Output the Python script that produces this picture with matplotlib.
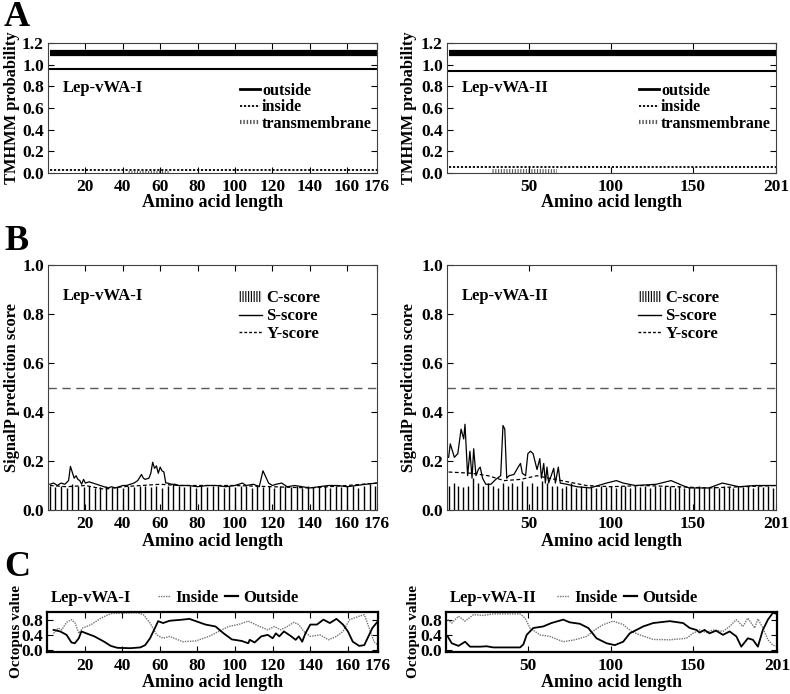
import numpy as np
import matplotlib
matplotlib.use('Agg')
import matplotlib.pyplot as plt
from matplotlib.lines import Line2D
from matplotlib.patches import Patch

plt.rcParams['font.family'] = ['Liberation Serif', 'DejaVu Serif']
plt.rcParams['font.weight'] = 'bold'
plt.rcParams['axes.labelweight'] = 'bold'
plt.rcParams['hatch.linewidth'] = 0.8

# ---- data ----
names = ['Lep-vWA-I', 'Lep-vWA-II']
lengths = [176, 201]
xticks = [[20, 40, 60, 80, 100, 120, 140, 160, 176], [50, 100, 150, 201]]

# A: TMHMM
tm_top = [1.11, 1.11]
tm_outside = [0.96, 0.945]
tm_inside = [0.03, 0.055]
tm_start = [43, 27]
tm_end = [65, 67]
tm_prob = [0.015, 0.04]

# B: SignalP, C-score every 3rd residue
c_score_1 = [0.10, 0.095, 0.10, 0.09, 0.105, 0.10, 0.095, 0.10, 0.09, 0.095,
             0.10, 0.09, 0.095, 0.09, 0.10, 0.095, 0.10, 0.10, 0.095, 0.10,
             0.09, 0.10, 0.105, 0.10, 0.095, 0.10, 0.09, 0.10, 0.095, 0.10,
             0.10, 0.09, 0.10, 0.095, 0.10, 0.10, 0.09, 0.10, 0.095, 0.10,
             0.09, 0.10, 0.10, 0.095, 0.10, 0.09, 0.10, 0.095, 0.10, 0.10,
             0.09, 0.10, 0.095, 0.10, 0.10, 0.09, 0.10, 0.105, 0.10]
c_score_2 = [0.10, 0.11, 0.10, 0.095, 0.10, 0.13, 0.11, 0.10, 0.11, 0.10,
             0.09, 0.11, 0.10, 0.11, 0.10, 0.12, 0.10, 0.11, 0.10, 0.12,
             0.11, 0.10, 0.10, 0.09, 0.10, 0.11, 0.09, 0.10, 0.095, 0.10,
             0.09, 0.10, 0.095, 0.10, 0.09, 0.10, 0.10, 0.09, 0.10, 0.095,
             0.10, 0.09, 0.10, 0.095, 0.10, 0.10, 0.09, 0.10, 0.09, 0.095,
             0.09, 0.10, 0.09, 0.095, 0.10, 0.09, 0.10, 0.095, 0.09, 0.10,
             0.095, 0.10, 0.09, 0.10, 0.095, 0.10, 0.09]

s_pos_1 = [1, 3, 5, 7, 9, 11, 12, 14, 15, 16, 17, 18, 19, 20, 22, 24, 26, 28, 30,
           32, 34, 36, 38, 40, 42, 44, 46, 48, 50, 51, 52, 54, 55, 56, 57, 58, 59,
           60, 61, 62, 63, 64, 66, 68, 70, 75, 80, 85, 90, 95, 100, 104, 106, 110,
           113, 115, 118, 120, 122, 125, 128, 132, 136, 140, 145, 150, 155, 160,
           165, 170, 176]
s_score_1 = [0.105, 0.11, 0.10, 0.11, 0.105, 0.12, 0.178, 0.13, 0.14, 0.125, 0.12,
             0.105, 0.125, 0.11, 0.115, 0.11, 0.105, 0.10, 0.095, 0.09, 0.095, 0.09,
             0.095, 0.10, 0.10, 0.105, 0.11, 0.12, 0.145, 0.13, 0.125, 0.13, 0.15,
             0.195, 0.17, 0.18, 0.15, 0.175, 0.16, 0.155, 0.11, 0.11, 0.105, 0.105,
             0.10, 0.10, 0.095, 0.10, 0.10, 0.095, 0.10, 0.11, 0.10, 0.105, 0.095,
             0.16, 0.11, 0.10, 0.105, 0.11, 0.095, 0.10, 0.095, 0.09, 0.095, 0.10,
             0.10, 0.095, 0.10, 0.105, 0.11]
y_pos_1 = [1, 10, 20, 30, 40, 50, 60, 70, 85, 100, 120, 140, 160, 176]
y_score_1 = [0.10, 0.095, 0.10, 0.085, 0.095, 0.10, 0.105, 0.10, 0.10, 0.10,
             0.095, 0.09, 0.10, 0.11]

s_pos_2 = [1, 2, 4.5, 6.6, 8.6, 10.2, 11, 12.6, 14, 15.3, 16.3, 17.7, 19.1, 20.3,
           21.7, 23.7, 26.8, 29.8, 32.8, 34.2, 35.3, 36.5, 37.9, 40.9, 43.9, 44.9,
           46, 48, 49.4, 51, 52.6, 55, 56.7, 57.7, 59.1, 60.1, 61.1, 62.1, 65.2,
           66.2, 68, 69.2, 73.2, 79.3, 87.4, 97.5, 103.5, 107.6, 115, 127.8, 136.9,
           143.9, 148, 160, 168.2, 178.3, 188.4, 201]
s_score_2 = [0.215, 0.27, 0.215, 0.23, 0.33, 0.29, 0.35, 0.14, 0.24, 0.13, 0.25,
             0.14, 0.165, 0.175, 0.13, 0.105, 0.105, 0.125, 0.14, 0.345, 0.33,
             0.13, 0.14, 0.145, 0.18, 0.19, 0.15, 0.14, 0.23, 0.24, 0.23, 0.165,
             0.21, 0.13, 0.19, 0.11, 0.175, 0.11, 0.17, 0.11, 0.175, 0.11, 0.105,
             0.095, 0.09, 0.11, 0.12, 0.11, 0.10, 0.105, 0.12, 0.10, 0.09, 0.09,
             0.11, 0.095, 0.10, 0.10]
y_pos_2 = [1, 15, 25, 35, 45, 55, 62, 70, 85, 100, 120, 140, 160, 180, 201]
y_score_2 = [0.155, 0.15, 0.14, 0.12, 0.125, 0.14, 0.13, 0.12, 0.10, 0.095,
             0.10, 0.095, 0.09, 0.095, 0.10]
cutoff = 0.5

# C: Octopus
out_pos_1 = [3.5, 7, 10.4, 13, 14.8, 16.9, 18.3, 20.9, 25.2, 30.4, 33.9, 37.4, 44.3,
             49.6, 52.2, 54.8, 57.4, 59.1, 61.7, 65.2, 72.2, 75.7, 79.1, 84.3, 89.6,
             93.9, 98.3, 103.5, 107, 107.8, 110.4, 113.9, 117.4, 120, 121.7, 123.5,
             126, 129.6, 132.2, 133.9, 135.7, 137.4, 140, 143.5, 147, 150.4, 153.9,
             157.4, 160, 162.6, 166, 168.7, 171.3, 173, 176]
out_val_1 = [0.53, 0.49, 0.40, 0.20, 0.18, 0.31, 0.49, 0.44, 0.36, 0.22, 0.11, 0.06,
             0.05, 0.07, 0.13, 0.31, 0.58, 0.76, 0.71, 0.77, 0.80, 0.82, 0.76, 0.67,
             0.62, 0.44, 0.28, 0.24, 0.18, 0.27, 0.20, 0.36, 0.40, 0.31, 0.44, 0.36,
             0.49, 0.37, 0.27, 0.36, 0.22, 0.44, 0.67, 0.67, 0.80, 0.71, 0.82, 0.67,
             0.49, 0.22, 0.11, 0.13, 0.40, 0.58, 0.76]
in_pos_1 = [3.5, 6, 7.8, 10.4, 13, 15, 16.9, 19, 23.5, 28.7, 33.9, 47.8, 51.3, 54.8,
            58.3, 61.7, 65.2, 72.2, 79.1, 86.1, 91.3, 96.5, 101.7, 107, 112.2, 117.4,
            120.9, 124.3, 127.8, 131.3, 133.9, 136.5, 140, 145.2, 149.6, 153.9, 157.4,
            160.9, 166, 168.7, 171.3, 173.9, 176]
in_val_1 = [0.44, 0.58, 0.53, 0.73, 0.80, 0.71, 0.44, 0.58, 0.67, 0.84, 0.96, 0.98,
            0.93, 0.71, 0.40, 0.31, 0.36, 0.22, 0.24, 0.36, 0.49, 0.62, 0.67, 0.76,
            0.64, 0.53, 0.62, 0.53, 0.62, 0.73, 0.67, 0.49, 0.36, 0.40, 0.27, 0.36,
            0.49, 0.80, 0.89, 0.93, 0.58, 0.22, 0.13]

out_pos_2 = [1, 3.5, 7.6, 11.6, 14.6, 20.7, 24.7, 28.8, 45, 47, 49, 53, 59, 64, 71.2,
             75, 81.3, 86.4, 91.4, 97.5, 102.5, 107.6, 111.6, 115.7, 119.7, 125.8,
             135.9, 144, 148, 152, 154, 157, 160, 164, 168.2, 172.2, 176.3, 179.3,
             183.3, 186.4, 189.4, 192.4, 195.5, 198.5, 201]
out_val_2 = [0.36, 0.18, 0.11, 0.22, 0.09, 0.09, 0.10, 0.07, 0.07, 0.15, 0.40, 0.58,
             0.62, 0.71, 0.80, 0.73, 0.69, 0.58, 0.31, 0.18, 0.13, 0.22, 0.44, 0.53,
             0.62, 0.71, 0.76, 0.71, 0.58, 0.53, 0.46, 0.53, 0.44, 0.51, 0.40, 0.49,
             0.36, 0.09, 0.31, 0.27, 0.09, 0.53, 0.80, 0.98, 0.95]
in_pos_2 = [1, 3.5, 7.6, 11.6, 16.7, 22.7, 28.8, 45, 48, 51, 57, 63, 71.2, 78.3, 85.4,
            90.4, 95.5, 101.5, 107.6, 112.6, 117.7, 125.8, 135.9, 146, 150, 154, 158,
            162, 168.2, 172.2, 176.3, 180.3, 183.3, 187.4, 189.4, 192.4, 195.5, 198.5,
            201]
in_val_2 = [0.80, 0.71, 0.89, 0.76, 0.93, 0.91, 0.95, 0.95, 0.84, 0.58, 0.40, 0.36,
            0.22, 0.27, 0.36, 0.53, 0.67, 0.76, 0.67, 0.49, 0.40, 0.28, 0.27, 0.31,
            0.44, 0.53, 0.46, 0.53, 0.49, 0.62, 0.80, 0.62, 0.84, 0.58, 0.82, 0.58,
            0.27, 0.13, 0.10]

c_scores = [c_score_1, c_score_2]
s_pos = [s_pos_1, s_pos_2]
s_scores = [s_score_1, s_score_2]
y_pos = [y_pos_1, y_pos_2]
y_scores = [y_score_1, y_score_2]
out_pos = [out_pos_1, out_pos_2]
out_vals = [out_val_1, out_val_2]
in_pos = [in_pos_1, in_pos_2]
in_vals = [in_val_1, in_val_2]

W, H = 790, 694
LAB = 11.8      # y labels
TXT = 12        # names and legends
TICK = 12.5
XLAB = 13


def rect(x0, y0, x1, y1):
    return [x0 / W, 1 - y1 / H, (x1 - x0) / W, (y1 - y0) / H]


def style(ax, n, ticks, spine_w=0.8, spine_c='0.25'):
    ax.set_xlim(0, n)
    ax.set_xticks(ticks)
    ax.tick_params(direction='in', top=True, right=True, length=4, width=0.8,
                   labelsize=TICK, pad=3)
    ax.tick_params(axis='x', pad=4)
    for s in ax.spines.values():
        s.set_linewidth(spine_w)
        s.set_color(spine_c)


fig = plt.figure(figsize=(W / 100, H / 100), dpi=100)

cols = [(48, 377), (447, 776)]

for i in range(2):
    n = lengths[i]
    x0, x1 = cols[i]
    ylx = [-0.085, -0.091][i]

    # ---- A ----
    ax = fig.add_axes(rect(x0, 43, x1, 173))
    ax.plot([1, n], [tm_top[i]] * 2, color='k', lw=4.5, solid_capstyle='butt')
    ax.plot([1, n], [tm_outside[i]] * 2, color='k', lw=1.5)
    ax.plot([1, n], [tm_inside[i]] * 2, color='k', lw=1.3, ls=(0, (1.2, 1)))
    ax.fill_between([tm_start[i], tm_end[i]], 0, tm_prob[i], facecolor='white',
                    edgecolor='0.35', hatch='||||||', lw=0)
    style(ax, n, xticks[i])
    ax.set_ylim(0, 1.2)
    ax.set_yticks(np.arange(0, 1.21, 0.2))
    ax.yaxis.set_major_formatter('{x:.1f}')
    ax.set_ylabel('TMHMM probability', fontsize=LAB)
    ax.yaxis.set_label_coords(ylx, 0.5)
    ax.set_xlabel('Amino acid length', fontsize=XLAB)
    ax.xaxis.set_label_coords(0.5, -0.16)
    ax.text(0.046, 0.654, names[i], transform=ax.transAxes, fontsize=TXT, va='center')
    handles = [Line2D([], [], color='k', lw=2),
               Line2D([], [], color='k', lw=1.3, ls=(0, (1.2, 1))),
               Line2D([], [], color='0.35', lw=3, ls=(0, (0.35, 0.45)))]
    ax.legend(handles, ['outside', 'inside', 'transmembrane'], loc='upper left',
              bbox_to_anchor=(0.56, 0.755), frameon=False, borderpad=0,
              handlelength=1.25, handletextpad=0.1, labelspacing=0.02,
              prop={'size': 11.6, 'weight': 'bold'})

    # ---- B ----
    ax = fig.add_axes(rect(x0, 265, x1, 510))
    c_pos = np.arange(1, n + 1, 3)
    ax.vlines(c_pos, 0, c_scores[i], color='k', lw=1.0)
    ax.plot(s_pos[i], s_scores[i], color='k', lw=0.9)
    ax.plot(y_pos[i], y_scores[i], color='k', lw=0.9, ls=(0, (3, 2)))
    ax.axhline(cutoff, color='0.35', lw=1.0, ls=(0, (6, 4)))
    style(ax, n, xticks[i])
    ax.set_ylim(0, 1.0)
    ax.set_yticks(np.arange(0, 1.01, 0.2))
    ax.yaxis.set_major_formatter('{x:.1f}')
    ax.set_ylabel('SignalP prediction score', fontsize=LAB)
    ax.yaxis.set_label_coords(ylx, 0.5)
    ax.set_xlabel('Amino acid length', fontsize=XLAB)
    ax.xaxis.set_label_coords(0.5, -0.095)
    ax.text(0.046, 0.873, names[i], transform=ax.transAxes, fontsize=TXT, va='center')
    handles = [Patch(facecolor='white', edgecolor='k', hatch='||||||', lw=0),
               Line2D([], [], color='k', lw=1.0),
               Line2D([], [], color='k', lw=1.0, ls=(0, (2, 1.5)))]
    ax.legend(handles, ['C-score', 'S-score', 'Y-score'], loc='upper left',
              bbox_to_anchor=(0.555, 0.93), frameon=False, borderpad=0,
              handlelength=1.4, handletextpad=0.25, labelspacing=0.1,
              handleheight=0.6, prop={'size': TXT, 'weight': 'bold'})

    # ---- C ----
    ax = fig.add_axes(rect(x0 - 1, 612, x1 + 1, 652))
    ax.plot(in_pos[i], in_vals[i], color='0.45', lw=1.0, ls=(0, (1, 0.8)))
    ax.plot(out_pos[i], out_vals[i], color='k', lw=1.3)
    style(ax, n, xticks[i], spine_w=1.6, spine_c='k')
    ax.set_ylim(-0.05, 1.0)
    ax.set_yticks([0, 0.4, 0.8])
    ax.yaxis.set_major_formatter('{x:.1f}')
    ax.set_ylabel('Octopus value', fontsize=11)
    ax.yaxis.set_label_coords([-0.073, -0.079][i], 0.5)
    ax.set_xlabel('Amino acid length', fontsize=XLAB)
    ax.xaxis.set_label_coords(0.5, -0.55)
    ax.text(0.01, 1.36, names[i], transform=ax.transAxes, fontsize=TXT, va='center')
    handles = [Line2D([], [], color='0.45', lw=1.0, ls=(0, (1, 0.8))),
               Line2D([], [], color='k', lw=1.6)]
    ax.legend(handles, ['Inside', 'Outside'], loc='center left', ncol=2,
              bbox_to_anchor=(0.31, 1.36), frameon=False, borderpad=0,
              handlelength=0.75, handletextpad=0.3, columnspacing=0.4,
              prop={'size': TXT, 'weight': 'bold'})

for letter, yc in [('A', 17), ('B', 242), ('C', 567)]:
    fig.text(4 / W, 1 - yc / H, letter, fontsize=26, fontweight='bold', va='center')

fig.savefig('out.png', dpi=100)
